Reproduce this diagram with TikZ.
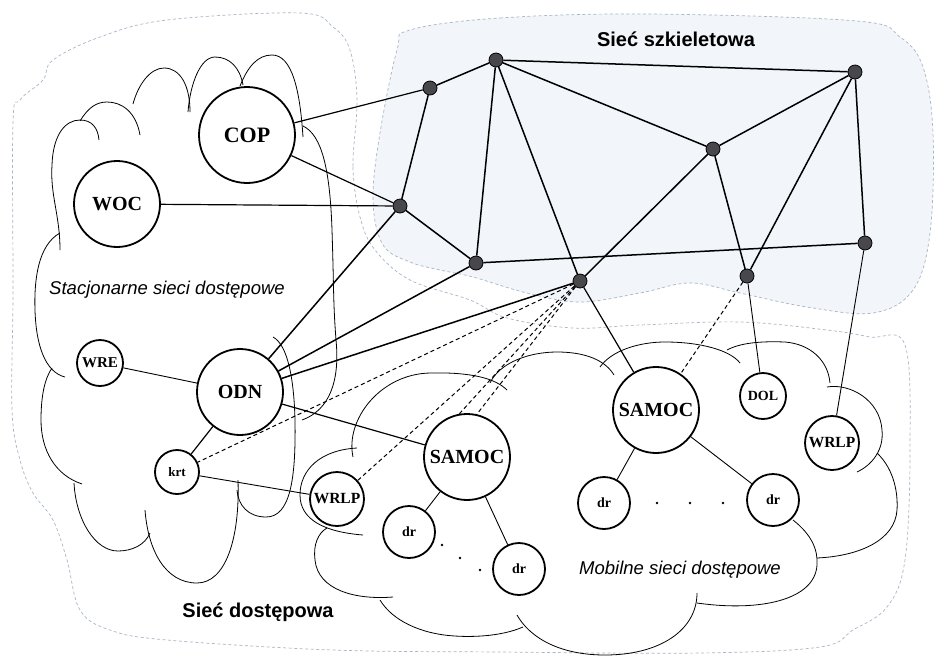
\documentclass[tikz,border=0pt]{standalone}
\usepackage{fontspec}
\setmainfont{Liberation Serif}
\newfontfamily\labelsans{Liberation Sans}
\definecolor{zoneline}{RGB}{168,182,198}
\definecolor{zonefill}{RGB}{242,245,249}
\definecolor{hubfill}{RGB}{72,72,76}

\begin{document}
\begin{tikzpicture}[x=1pt,y=-1pt,
  dev/.style={circle,draw,line width=1.8pt,inner sep=0pt},
  bigdev/.style={dev,minimum size=86pt,font=\bfseries\fontsize{20}{20}\selectfont},
  wre/.style={dev,minimum size=46pt,font=\bfseries\fontsize{15}{15}\selectfont},
  wrlp/.style={dev,minimum size=54pt,font=\bfseries\fontsize{15.5}{15.5}\selectfont},
  term/.style={dev,minimum size=52pt,font=\bfseries\fontsize{14}{14}\selectfont},
  hub/.style={circle,draw,line width=0.8pt,fill=hubfill,minimum size=14pt,inner sep=0pt},
  trunk/.style={line width=1.5pt},
  feed/.style={line width=1.2pt},
  link/.style={line width=0.9pt},
  radio/.style={line width=1pt,dash pattern=on 4pt off 3pt},
  lobe/.style={line width=0.8pt},
  zone/.style={draw=zoneline,line width=0.7pt,dash pattern=on 3pt off 2.5pt},
  title/.style={font=\labelsans\bfseries\fontsize{20}{20}\selectfont},
  subtitle/.style={font=\labelsans\itshape\fontsize{18.5}{18.5}\selectfont},
  dot/.style={circle,fill,inner sep=0pt,minimum size=2.6pt}
]
\useasboundingbox (0,0) rectangle (937,657);
\fill[white] (0,0) rectangle (937,657);

% access network zone (faint dashed border)
\draw[zone] plot[smooth cycle,tension=0.6] coordinates {
  (357,100) (353,167) (360,217) (375,250) (410,280) (470,300) (507,318)
  (573,328) (640,325) (740,322) (827,330) (870,337) (905,345) (910,450)
  (905,560) (887,607) (853,630) (820,647) (700,653) (500,652) (333,650)
  (167,640) (110,630) (80,610) (67,560) (53,520) (33,493) (20,460)
  (12,410) (13,293) (13,123) (20,100) (43,80) (53,60) (100,37) (167,20)
  (300,13) (333,27) (350,50)};

% backbone zone (shaded)
\path[fill=zonefill,zone] plot[smooth cycle,tension=0.6] coordinates {
  (410,30) (500,18) (650,14) (857,21) (900,37) (923,67) (933,133)
  (930,233) (913,290) (873,313) (807,307) (740,293) (690,283) (640,293)
  (580,302) (527,293) (473,277) (440,270) (410,262) (383,245) (373,200)
  (380,133) (397,50)};

% fixed access cloud, one arc per lobe
\begin{scope}[lobe]
\draw (60,250) .. controls (60,215) and (50,195) .. (52,165) .. controls (53,135) and (65,120) .. (80,120) .. controls (92,120) and (98,128) .. (99,140);
\draw (80,121) .. controls (88,108) and (96,102) .. (107,102) .. controls (122,102) and (136,112) .. (140,135);
\draw (133,104) .. controls (138,85) and (150,68) .. (164,68) .. controls (180,68) and (190,85) .. (190,112);
\draw (188,112) .. controls (190,85) and (200,57) .. (215,57) .. controls (230,57) and (240,68) .. (243,85);
\draw (240,86) .. controls (248,66) and (258,55) .. (272,55) .. controls (292,55) and (300,90) .. (303,137);
\draw (303,126) .. controls (322,135) and (330,170) .. (332,230) .. controls (334,290) and (333,300) .. (336,340) .. controls (340,380) and (330,410) .. (302,420);
\draw (273,337) .. controls (288,345) and (294,380) .. (295,420) .. controls (296,480) and (290,517) .. (266,517) .. controls (248,517) and (238,505) .. (237,490);
\draw (238,480) .. controls (240,540) and (225,583) .. (197,583) .. controls (165,583) and (148,550) .. (145,510);
\draw (150,533) .. controls (145,545) and (132,551) .. (118,551) .. controls (95,551) and (76,520) .. (74,483);
\draw (82,484) .. controls (55,475) and (41,450) .. (41,420) .. controls (41,395) and (45,378) .. (52,368);
\draw (65,377) .. controls (45,372) and (36,345) .. (35,310) .. controls (34,280) and (38,245) .. (60,233);
\end{scope}

% mobile access cloud, one arc per lobe
\begin{scope}[lobe]
\draw (353,457) .. controls (345,420) and (380,374) .. (430,373) .. controls (470,372) and (495,378) .. (507,390);
\draw (490,383) .. controls (500,362) and (530,352) .. (557,352) .. controls (585,352) and (605,360) .. (614,375);
\draw (600,367) .. controls (612,350) and (640,342) .. (665,342) .. controls (700,342) and (730,350) .. (740,363);
\draw (727,350) .. controls (740,343) and (760,341) .. (785,342) .. controls (810,344) and (828,360) .. (830,383);
\draw (827,387) .. controls (850,383) and (880,400) .. (882,430) .. controls (884,450) and (872,465) .. (857,472);
\draw (877,453) .. controls (895,470) and (898,495) .. (897,510) .. controls (895,540) and (860,556) .. (817,558);
\draw (793,520) .. controls (812,535) and (818,550) .. (817,565) .. controls (815,600) and (760,612) .. (697,603);
\draw (697,593) .. controls (697,630) and (660,655) .. (605,655) .. controls (560,655) and (530,638) .. (517,615);
\draw (523,627) .. controls (500,637) and (470,637) .. (455,636) .. controls (420,634) and (392,620) .. (380,600);
\draw (393,597) .. controls (355,600) and (318,590) .. (315,560) .. controls (313,545) and (318,533) .. (327,528);
\draw (357,448) .. controls (320,450) and (300,470) .. (300,495) .. controls (300,520) and (325,532) .. (363,535);
\end{scope}

% backbone routers
\node[hub] (b1) at (496,60) {};
\node[hub] (b2) at (430,88) {};
\node[hub] (b3) at (400,206) {};
\node[hub] (b4) at (476,263) {};
\node[hub] (b5) at (580,281) {};
\node[hub] (b6) at (713,149) {};
\node[hub] (b7) at (855,72) {};
\node[hub] (b8) at (865,243) {};
\node[hub] (b9) at (747,276) {};

% access devices
\node[dev,minimum size=96pt,font=\bfseries\fontsize{22}{22}\selectfont] (cop) at (247,135) {COP};
\node[bigdev] (woc) at (117,204) {WOC};
\node[bigdev] (odn) at (240,392) {ODN};
\node[wre] (wre) at (100,363) {WRE};
\node[dev,minimum size=44pt,font=\bfseries\fontsize{13}{13}\selectfont] (krt) at (177,472) {krt};
\node[wrlp] (wrlpa) at (337,499) {WRLP};
\node[bigdev] (samoca) at (467,457) {SAMOC};
\node[term] (dra) at (409,532) {dr};
\node[term] (drb) at (519,569) {dr};
\node[bigdev] (samocb) at (656,410) {SAMOC};
\node[wre,font=\bfseries\fontsize{14}{14}\selectfont] (dol) at (763,396) {DOL};
\node[wrlp] (wrlpb) at (832,443) {WRLP};
\node[term] (drc) at (604,503) {dr};
\node[term] (drd) at (773,500) {dr};

% backbone links
\draw[trunk] (b1) -- (b2);
\draw[trunk] (b2) -- (b3);
\draw[trunk] (b1) -- (b7);
\draw[trunk] (b1) -- (b4);
\draw[trunk] (b1) -- (b5);
\draw[trunk] (b1) -- (b6);
\draw[trunk] (b6) -- (b7);
\draw[trunk] (b6) -- (b5);
\draw[trunk] (b6) -- (b9);
\draw[trunk] (b7) -- (b9);
\draw[trunk] (b7) -- (b8);
\draw[trunk] (b4) -- (b8);
\draw[trunk] (b3) -- (b4);

% access to backbone
\draw[feed] (cop) -- (b2);
\draw[feed] (cop) -- (b3);
\draw[feed] (woc) -- (b3);
\draw[trunk] (odn) -- (b3);
\draw[trunk] (odn) -- (b4);
\draw[trunk] (odn) -- (b5);
\draw[feed] (b5) -- (samocb);
\draw[link] (b9) -- (dol);
\draw[link] (b8) -- (wrlpb);

% access links
\draw[link] (wre) -- (odn);
\draw[feed] (odn) -- (krt);
\draw[feed] (odn) -- (samoca);
\draw[link] (krt) -- (wrlpa);
\draw[link] (samoca) -- (dra);
\draw[link] (samoca) -- (drb);
\draw[link] (samocb) -- (drc);
\draw[link] (samocb) -- (drd);

% radio links
\draw[radio] (b5) -- (krt);
\draw[radio] (b5) -- (wrlpa);
\draw[radio] (b5) -- (samoca.100);
\draw[radio] (b5) -- (samoca.77);
\draw[radio] (b9) -- (samocb);

% continuation dots
\node[dot] (d1) at (442,545) {};
\node[dot] (d2) at (460,558) {};
\node[dot] (d3) at (480,570) {};
\node[dot] (d4) at (657,503) {};
\node[dot] (d5) at (690,503) {};
\node[dot] (d6) at (723,503) {};

% zone labels
\node[title] (tcore) at (676,39) {Sieć szkieletowa};
\node[title] (tacc) at (258,612) {Sieć dostępowa};
\node[subtitle] (tfix) at (167,290) {Stacjonarne sieci dostępowe};
\node[subtitle] (tmob) at (680,570) {Mobilne sieci dostępowe};
\end{tikzpicture}
\end{document}
